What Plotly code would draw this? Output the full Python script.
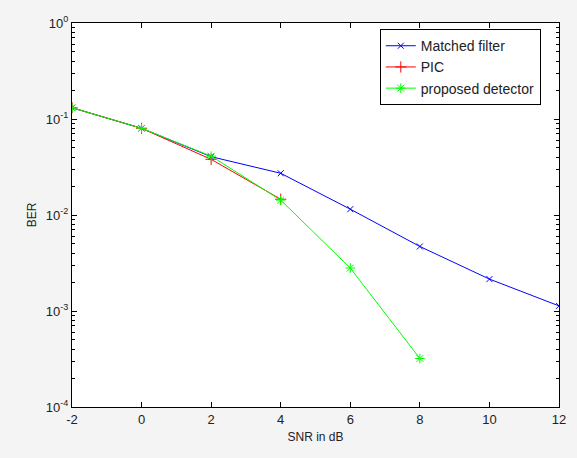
import plotly.graph_objects as go

snr_mf = [-2, 0, 2, 4, 6, 8, 10, 12]
ber_mf = [0.131, 0.080, 0.0405, 0.0272, 0.0115, 0.0047, 0.00215, 0.00113]

snr_pic = [-2, 0, 2, 4]
ber_pic = [0.131, 0.080, 0.038, 0.0146]

snr_prop = [-2, 0, 2, 4, 6, 8]
ber_prop = [0.131, 0.080, 0.041, 0.0143, 0.0028, 0.00032]

x_ticks = [-2, 0, 2, 4, 6, 8, 10, 12]
x_ticktext = ["-2", "0", "2", "4", "6", "8", "10", "12"]
y_ticks = [1e-4, 1e-3, 1e-2, 1e-1, 1e0]
y_ticktext = ["10<sup>-4</sup>", "10<sup>-3</sup>", "10<sup>-2</sup>", "10<sup>-1</sup>", "10<sup>0</sup>"]
y_minor = [m * 10 ** e for e in range(-4, 0) for m in range(2, 10)]

font = dict(family="Liberation Sans, Arial, sans-serif", size=12, color="#222222")
tickfont = dict(family="Liberation Sans, Arial, sans-serif", size=13, color="#222222")

fig = go.Figure()
fig.add_trace(go.Scatter(x=snr_mf, y=ber_mf, mode="lines+markers", name="Matched filter",
                         line=dict(color="#0000ff", width=1),
                         marker=dict(symbol="x-thin-open", size=6, color="#0000ff",
                                     line=dict(color="#0000ff", width=1))))
fig.add_trace(go.Scatter(x=snr_pic, y=ber_pic, mode="lines+markers", name="PIC",
                         line=dict(color="#ff0000", width=1),
                         marker=dict(symbol="cross-thin-open", size=8, color="#ff0000",
                                     line=dict(color="#ff0000", width=1))))
fig.add_trace(go.Scatter(x=snr_prop, y=ber_prop, mode="lines+markers", name="proposed detector",
                         line=dict(color="#00ff00", width=1),
                         marker=dict(symbol="asterisk-open", size=8, color="#00ff00",
                                     line=dict(color="#00ff00", width=1))))

fig.update_layout(
    width=577, height=458,
    margin=dict(l=72, r=18, t=23, b=51),
    paper_bgcolor="#f4f4f4", plot_bgcolor="white",
    font=font,
    showlegend=True,
    legend=dict(x=0.632, y=0.984, xanchor="left", yanchor="top",
                bgcolor="white", bordercolor="black", borderwidth=1,
                font=dict(family="Liberation Sans, Arial, sans-serif", size=14, color="#222222"),
                tracegroupgap=0, itemwidth=30),
    xaxis=dict(range=[-2, 12], tickvals=x_ticks, ticktext=x_ticktext, tickfont=tickfont,
               ticks="inside", ticklen=5, tickcolor="black",
               showline=True, linecolor="black", linewidth=1, mirror="allticks",
               showgrid=False, zeroline=False,
               title=dict(text="SNR in dB", standoff=7, font=font)),
    yaxis=dict(type="log", range=[-4, 0], tickvals=y_ticks, ticktext=y_ticktext, tickfont=tickfont,
               ticks="inside", ticklen=5, tickcolor="black",
               minor=dict(tickmode="array", tickvals=y_minor, ticks="inside", ticklen=3,
                          tickcolor="black", showgrid=False),
               showline=True, linecolor="black", linewidth=1, mirror="allticks",
               showgrid=False, zeroline=False,
               title=dict(text="BER", standoff=6, font=font)),
)

fig.write_html("out.html", config={"displayModeBar": False},
               post_script="document.body.style.margin='0';document.body.style.background='#f4f4f4';")
